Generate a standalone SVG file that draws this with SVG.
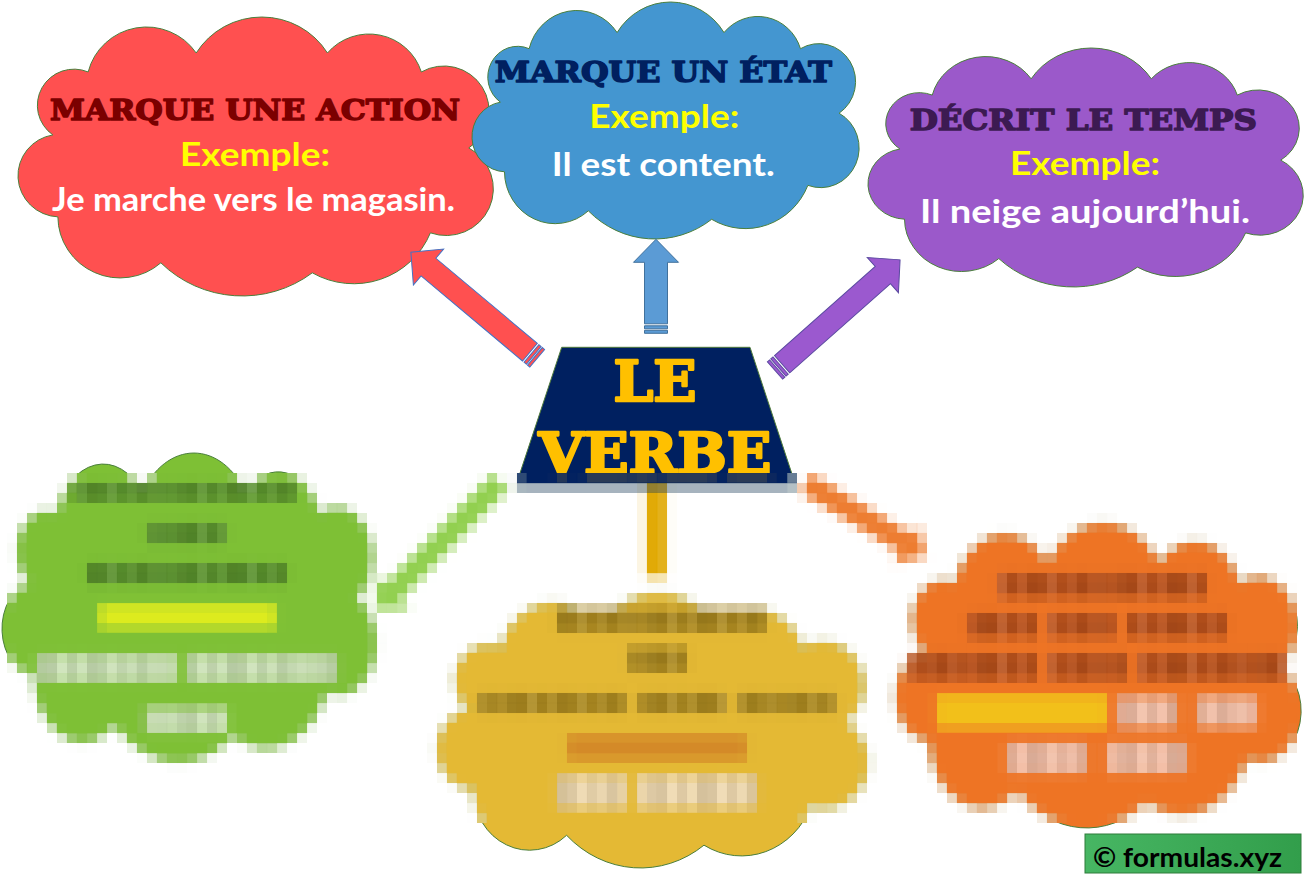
<svg xmlns="http://www.w3.org/2000/svg" xmlns:xlink="http://www.w3.org/1999/xlink" width="1305" height="892" viewBox="0 0 1305 892">
<style>
.cl{stroke:#4A7F3C;stroke-width:1}
.hd{font-family:"DejaVu Serif","Liberation Serif",serif;font-weight:900;font-size:27.5px;text-anchor:middle;stroke-width:1.5;stroke-linejoin:round}
.ex{font-family:Lato,"Open Sans",sans-serif;font-weight:bold;font-size:32px;fill:#FFFF00;text-anchor:middle}
.wt{font-family:Lato,"Open Sans",sans-serif;font-weight:bold;font-size:32px;fill:#FFFFFF;text-anchor:middle}
.big{font-family:"DejaVu Serif","Liberation Serif",serif;font-weight:900;font-size:56px;fill:#FFC000;stroke:#FFC000;stroke-width:2.6;stroke-linejoin:round;text-anchor:middle}
.ar{stroke-width:1;stroke-linejoin:miter}
</style>
<defs>
<path id="cloud" vector-effect="non-scaling-stroke" d="M53,135 A36.25,36.25 0 0 1 88,72 A59.6,59.6 0 0 1 195,53 A76.7,76.7 0 0 1 325,53 A54.3,54.3 0 0 1 418,72 A44.7,44.7 0 0 1 465,148 A46.7,46.7 0 0 1 427,233 A82.2,82.2 0 0 1 310,273 A115,115 0 0 1 160,263 A61.6,61.6 0 0 1 58,217 A41.3,41.3 0 0 1 53,135 Z"/>
<pattern id="var" patternUnits="userSpaceOnUse" x="3" y="0" width="47" height="40">
<rect x="0" y="0" width="6" height="40" fill="#000" fill-opacity="0.16"/>
<rect x="11" y="0" width="4" height="40" fill="#FFF" fill-opacity="0.22"/>
<rect x="19" y="0" width="7" height="40" fill="#000" fill-opacity="0.12"/>
<rect x="31" y="0" width="3" height="40" fill="#FFF" fill-opacity="0.18"/>
<rect x="38" y="0" width="5" height="40" fill="#000" fill-opacity="0.2"/>
</pattern>
<linearGradient id="wm" x1="0" y1="0" x2="1" y2="0">
<stop offset="0" stop-color="#47B663"/>
<stop offset="1" stop-color="#329E4B"/>
</linearGradient>
<filter id="pixelate" filterUnits="userSpaceOnUse" primitiveUnits="userSpaceOnUse" x="7" y="473" width="1290" height="350" color-interpolation-filters="sRGB">
<feGaussianBlur in="SourceGraphic" stdDeviation="3" result="blur"/>
<feFlood x="11" y="477" width="2" height="2" flood-color="#000" flood-opacity="1" result="dot"/>
<feComposite in="dot" in2="dot" operator="over" x="7" y="473" width="10" height="10" result="cell"/>
<feTile in="cell" result="grid"/>
<feComposite in="blur" in2="grid" operator="in" result="samples"/>
<feMorphology in="samples" operator="dilate" radius="4" result="px"/>
<feFlood flood-color="#FFFFFF" result="white"/>
<feMerge><feMergeNode in="white"/><feMergeNode in="px"/></feMerge>
</filter>
</defs>

<g id="scene">
<rect id="bg" x="0" y="0" width="1305" height="892" fill="#FFFFFF"/>

<g id="node-action">
<use href="#cloud" class="cl" fill="#FF5050" transform="translate(18,17) scale(1.0096,0.9993) translate(-18.5,-17)"/>
<text class="hd" x="255" y="120" fill="#7B0000" stroke="#7B0000" textLength="410" lengthAdjust="spacingAndGlyphs">MARQUE UNE ACTION</text>
<text class="ex" x="255" y="166" textLength="150" lengthAdjust="spacingAndGlyphs">Exemple:</text>
<text class="wt" x="253.5" y="210.5" textLength="403" lengthAdjust="spacingAndGlyphs">Je marche vers le magasin.</text>
</g>

<g id="node-etat">
<use href="#cloud" class="cl" fill="#4496D0" transform="translate(472,2) scale(0.8222,0.8489) translate(-18.5,-17)"/>
<text class="hd" x="663.3" y="81.7" fill="#002060" stroke="#002060" textLength="337" lengthAdjust="spacingAndGlyphs">MARQUE UN ÉTAT</text>
<text class="ex" x="664.3" y="128.3" textLength="150" lengthAdjust="spacingAndGlyphs">Exemple:</text>
<text class="wt" x="663.3" y="176" textLength="223" lengthAdjust="spacingAndGlyphs">Il est content.</text>
</g>

<g id="node-temps">
<use href="#cloud" class="cl" fill="#9B59CA" transform="translate(868,48) scale(0.9244,0.8560) translate(-18.5,-17)"/>
<text class="hd" x="1083.3" y="130" fill="#3C1A52" stroke="#3C1A52" textLength="347" lengthAdjust="spacingAndGlyphs">DÉCRIT LE TEMPS</text>
<text class="ex" x="1085" y="175" textLength="150" lengthAdjust="spacingAndGlyphs">Exemple:</text>
<text class="wt" x="1085" y="222.7" textLength="330" lengthAdjust="spacingAndGlyphs">Il neige aujourd’hui.</text>
</g>

<g id="node-green">
<use href="#cloud" class="cl" fill="#7EC035" transform="translate(2,453) scale(0.7945,1.1067) translate(-18.5,-17)"/>
<g fill="#578E2B"><g id="gb1">
<rect x="72" y="483" width="225" height="18"/>
<rect x="147" y="523" width="80" height="21"/>
<rect x="87" y="563" width="200" height="21"/>
</g></g>
<use href="#gb1" fill="url(#var)"/>
<rect x="100" y="605" width="175" height="23" fill="#DDEB1E"/>
<g fill="#CDE3B8"><g id="gb2">
<rect x="37" y="655" width="140" height="26"/>
<rect x="187" y="655" width="150" height="26"/>
<rect x="145" y="708" width="82" height="24"/>
</g></g>
<use href="#gb2" fill="url(#var)"/>
</g>

<g id="node-yellow">
<use href="#cloud" class="cl" fill="#E4B934" transform="translate(437,593) scale(0.9159,0.9850) translate(-18.5,-17)"/>
<g fill="#A8861E"><g id="yb1">
<rect x="557" y="608" width="210" height="24"/>
<rect x="627" y="647" width="60" height="25"/>
<rect x="477" y="693" width="150" height="20"/>
<rect x="637" y="693" width="90" height="20"/>
<rect x="737" y="693" width="100" height="20"/>
</g></g>
<use href="#yb1" fill="url(#var)"/>
<rect x="567" y="735" width="180" height="25" fill="#D48A28"/>
<g fill="#F0DAB0"><g id="yb2">
<rect x="557" y="776" width="70" height="32"/>
<rect x="637" y="776" width="120" height="32"/>
</g></g>
<use href="#yb2" fill="url(#var)"/>
</g>

<g id="node-orange">
<use href="#cloud" class="cl" fill="#EE7424" transform="translate(895,523) scale(0.8626,1.0924) translate(-18.5,-17)"/>
<g fill="#B8501A"><g id="ob1">
<rect x="997" y="573" width="210" height="25"/>
<rect x="967" y="613" width="70" height="25"/>
<rect x="1047" y="613" width="70" height="25"/>
<rect x="1127" y="613" width="100" height="25"/>
<rect x="907" y="653" width="130" height="27"/>
<rect x="1047" y="653" width="80" height="27"/>
<rect x="1137" y="653" width="150" height="27"/>
</g></g>
<use href="#ob1" fill="url(#var)"/>
<rect x="937" y="695" width="170" height="33" fill="#F2C01A"/>
<g fill="#F4C0A8"><g id="ob2">
<rect x="1117" y="697" width="60" height="30"/>
<rect x="1197" y="697" width="60" height="30"/>
<rect x="1007" y="743" width="80" height="30"/>
<rect x="1107" y="743" width="80" height="30"/>
</g></g>
<use href="#ob2" fill="url(#var)"/>
</g>

<g id="connectors">
<g class="ar" fill="#FF5050" stroke="#4472C4" transform="translate(537.2,358.3) rotate(220)">
<path d="M9.5,-11.5 L141.9,-11.5 L141.9,-23.5 L164.9,0 L141.9,23.5 L141.9,11.5 L9.5,11.5 Z"/>
<path d="M0,-11.5 h3 v23 h-3 Z M4.5,-11.5 h3 v23 h-3 Z"/>
</g>
<g class="ar" fill="#5B9BD5" stroke="#41719C" transform="translate(656,333.3) rotate(-90)">
<path d="M9.5,-11.5 L71,-11.5 L71,-22.5 L94,0 L71,22.5 L71,11.5 L9.5,11.5 Z"/>
<path d="M0,-11.5 h3 v23 h-3 Z M4.5,-11.5 h3 v23 h-3 Z"/>
</g>
<g class="ar" fill="#9B59CF" stroke="#5A4AA0" transform="translate(775,370.5) rotate(-41.5)">
<path d="M9.5,-11.5 L144,-11.5 L144,-23.5 L167,0 L144,23.5 L144,11.5 L9.5,11.5 Z"/>
<path d="M0,-11.5 h3 v23 h-3 Z M4.5,-11.5 h3 v23 h-3 Z"/>
</g>
<path class="ar" fill="#92D050" stroke="#92D050" transform="translate(500,482) rotate(134.3)" d="M0,-11 L154,-11 L154,-23 L177.5,0 L154,23 L154,11 L0,11 Z"/>
<rect x="645.5" y="487" width="21" height="90" fill="#E0A800"/>
<path class="ar" fill="#ED7D31" stroke="#ED7D31" transform="translate(806,483) rotate(31.2)" d="M0,-11 L117,-11 L117,-23 L140,0 L117,23 L117,11 L0,11 Z"/>
</g>

<g id="node-verbe">
<path d="M561.7,347.3 L750,347.3 L796.3,487 L515.4,487 Z" fill="#002060" stroke="#4E7A3A" stroke-width="1"/>
<text class="big" x="655" y="400.7" textLength="83" lengthAdjust="spacingAndGlyphs">LE</text>
<text class="big" x="655" y="472.5" textLength="233" lengthAdjust="spacingAndGlyphs">VERBE</text>
</g>
</g>

<use href="#scene" filter="url(#pixelate)"/>

<g id="watermark">
<rect x="1085" y="834" width="216" height="39" fill="url(#wm)" stroke="#2E7D3A" stroke-width="1"/>
<text x="1093" y="866.5" font-family="Lato,'Open Sans',sans-serif" font-weight="bold" font-size="27" fill="#000000" textLength="189" lengthAdjust="spacingAndGlyphs">© formulas.xyz</text>
</g>
</svg>
